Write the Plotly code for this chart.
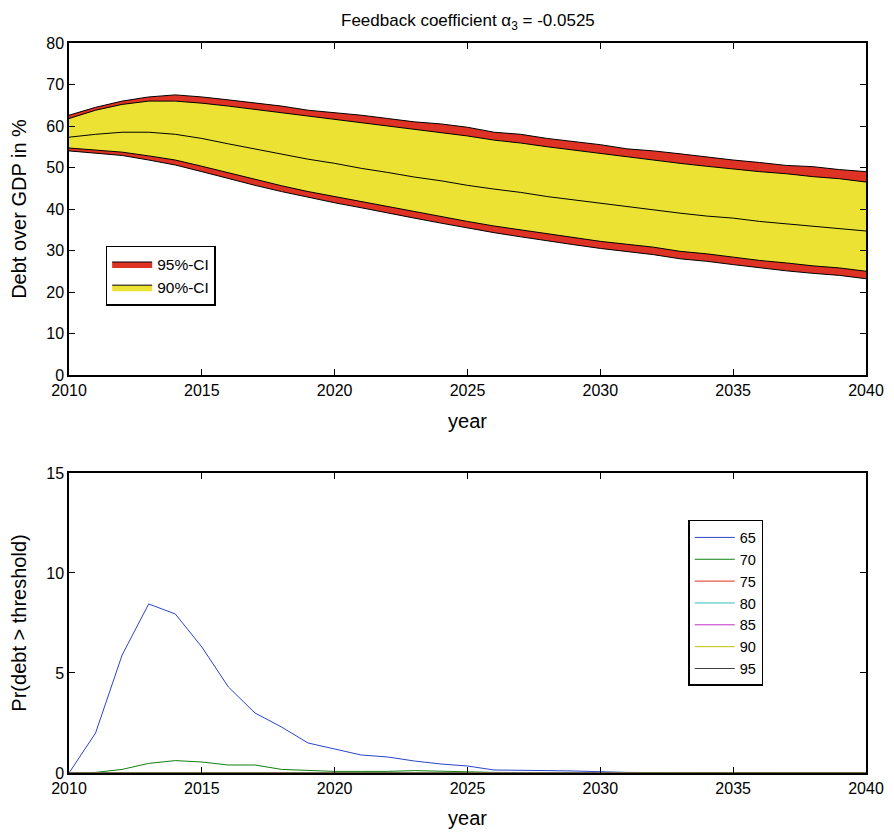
import plotly.graph_objects as go

years = list(range(2010, 2041))

upper95 = [62.6, 64.5, 66.0, 67.0, 67.5, 67.0, 66.3, 65.6, 64.8, 63.8, 63.2, 62.6, 61.8, 61.0, 60.5, 59.7,
           58.5, 58.0, 57.0, 56.2, 55.5, 54.5, 54.0, 53.3, 52.5, 51.8, 51.2, 50.5, 50.2, 49.5, 49.0]
upper90 = [61.8, 63.8, 65.2, 66.0, 66.0, 65.5, 64.8, 64.0, 63.3, 62.4, 61.6, 60.8, 60.0, 59.2, 58.4, 57.6,
           56.6, 55.9, 55.0, 54.2, 53.4, 52.5, 51.8, 51.0, 50.3, 49.6, 49.0, 48.5, 47.8, 47.3, 46.5]
median = [57.3, 58.0, 58.5, 58.5, 58.0, 57.0, 55.7, 54.5, 53.3, 52.0, 51.0, 49.8, 48.8, 47.7, 46.8, 45.7,
          44.8, 44.0, 43.0, 42.2, 41.3, 40.5, 39.8, 39.0, 38.3, 37.8, 37.0, 36.4, 35.8, 35.2, 34.7]
lower90 = [54.7, 54.2, 53.7, 52.8, 51.8, 50.3, 48.7, 47.2, 45.6, 44.2, 43.0, 41.8, 40.5, 39.4, 38.2, 37.0,
           35.9, 35.0, 34.0, 33.1, 32.2, 31.5, 30.8, 29.8, 29.2, 28.4, 27.6, 27.0, 26.3, 25.8, 25.0]
lower95 = [54.0, 53.5, 52.9, 51.8, 50.6, 49.0, 47.3, 45.7, 44.2, 42.8, 41.5, 40.3, 39.0, 37.8, 36.6, 35.4,
           34.3, 33.3, 32.3, 31.4, 30.5, 29.8, 29.0, 28.0, 27.4, 26.6, 25.8, 25.1, 24.5, 24.0, 23.2]

thresholds = ["65", "70", "75", "80", "85", "90", "95"]
prob65 = [0.0, 2.0, 5.9, 8.45, 7.95, 6.3, 4.3, 3.0, 2.3, 1.5, 1.2, 0.9, 0.8, 0.6, 0.45, 0.35,
          0.15, 0.15, 0.12, 0.1, 0.05, 0.03, 0.02, 0.0, 0.02, 0.02, 0.0, 0.0, 0.0, 0.0, 0.0]
prob70 = [0.0, 0.03, 0.18, 0.48, 0.62, 0.55, 0.4, 0.4, 0.18, 0.13, 0.08, 0.08, 0.08, 0.12, 0.08, 0.05,
          0.03, 0.02, 0.02, 0.02, 0.01, 0.01, 0.01, 0.0, 0.01, 0.0, 0.0, 0.0, 0.0, 0.0, 0.0]
prob75 = [0.0, 0.0, 0.0, 0.02, 0.03, 0.02, 0.01, 0.01, 0.0, 0.0, 0.0, 0.0, 0.0, 0.0, 0.0, 0.0,
          0.0, 0.0, 0.0, 0.0, 0.0, 0.0, 0.0, 0.0, 0.0, 0.0, 0.0, 0.0, 0.0, 0.0, 0.0]
prob80 = [0.0] * 31
prob85 = [0.0] * 31
prob90 = [0.0] * 31
prob95 = [0.0] * 31
probs = [prob65, prob70, prob75, prob80, prob85, prob90, prob95]
line_colors = ["#2a45c8", "#108010", "#e03020", "#30c0c0", "#c030c0", "#c0c000", "#404040"]

RED = "#de3224"
YEL = "#ebe233"
FONT = "Liberation Sans, Arial, sans-serif"

fig = go.Figure()

# 95% band
fig.add_trace(go.Scatter(x=years, y=lower95, mode="lines", line=dict(color="black", width=1),
                         showlegend=False, xaxis="x", yaxis="y", hoverinfo="skip"))
fig.add_trace(go.Scatter(x=years, y=upper95, mode="lines", line=dict(color="black", width=1),
                         fill="tonexty", fillcolor=RED, name="95%-CI", legend="legend",
                         xaxis="x", yaxis="y"))
# 90% band
fig.add_trace(go.Scatter(x=years, y=lower90, mode="lines", line=dict(color="black", width=1),
                         showlegend=False, xaxis="x", yaxis="y", hoverinfo="skip"))
fig.add_trace(go.Scatter(x=years, y=upper90, mode="lines", line=dict(color="black", width=1),
                         fill="tonexty", fillcolor=YEL, name="90%-CI", legend="legend",
                         xaxis="x", yaxis="y"))
fig.add_trace(go.Scatter(x=years, y=median, mode="lines", line=dict(color="black", width=1),
                         showlegend=False, xaxis="x", yaxis="y"))

for name, vals, col in zip(thresholds, probs, line_colors):
    fig.add_trace(go.Scatter(x=years, y=vals, mode="lines", line=dict(color=col, width=1),
                             name=name, legend="legend2", xaxis="x2", yaxis="y2"))

axis_common = dict(showline=True, linecolor="black", linewidth=1.5, mirror="ticks",
                   ticks="inside", ticklen=6, tickcolor="black", showgrid=False, zeroline=False,
                   automargin=False,
                   tickfont=dict(family=FONT, size=16, color="black"))

xticks = [2010, 2015, 2020, 2025, 2030, 2035, 2040]

# the page body has an 8px margin, so the figure is 8px smaller and margins shifted
fig.update_layout(
    width=886, height=825,
    margin=dict(l=61, r=28, t=35, b=60),
    plot_bgcolor="white", paper_bgcolor="white",
    font=dict(family=FONT, color="black"),
    xaxis=dict(domain=[0, 1], anchor="y", range=[2010, 2040], tickvals=xticks,
               title=dict(text="year", font=dict(size=20), standoff=16), **axis_common),
    yaxis=dict(domain=[0.5452, 1.0], anchor="x", range=[0, 80], tickvals=list(range(0, 81, 10)),
               title=dict(text="Debt over GDP in %", font=dict(size=20), standoff=18), **axis_common),
    xaxis2=dict(domain=[0, 1], anchor="y2", range=[2010, 2040], tickvals=xticks,
                title=dict(text="year", font=dict(size=20), standoff=15), **axis_common),
    yaxis2=dict(domain=[0, 0.411], anchor="x2", range=[0, 15], tickvals=[0, 5, 10, 15],
                title=dict(text="Pr(debt > threshold)", font=dict(size=20), standoff=26), **axis_common),
    legend=dict(x=0.046, y=0.722, xanchor="left", yanchor="top", bgcolor="white",
                bordercolor="black", borderwidth=1.5, font=dict(size=15.5), tracegroupgap=0,
                traceorder="normal", itemwidth=40),
    legend2=dict(x=0.777, y=0.3466, xanchor="left", yanchor="top", bgcolor="white",
                 bordercolor="black", borderwidth=1.5, font=dict(size=14.5), tracegroupgap=0,
                 traceorder="normal", itemwidth=40),
    annotations=[dict(text="Feedback coefficient α<sub>3</sub> = -0.0525", x=0.5, y=1.0,
                      xref="paper", yref="paper", xanchor="center", yanchor="bottom", yshift=8,
                      showarrow=False, font=dict(size=17, family=FONT, color="black"))],
)

fig.write_html("out.html")
